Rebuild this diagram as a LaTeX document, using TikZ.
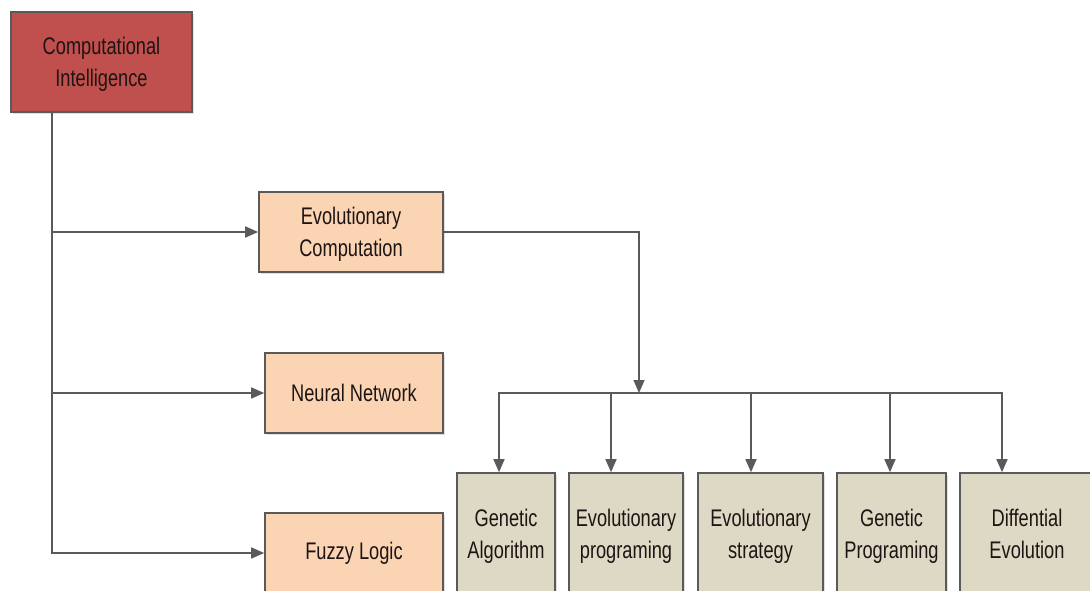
\documentclass[tikz,border=0pt]{standalone}
\usepackage{fontspec}
\setmainfont[FakeStretch=0.76]{Liberation Sans}
\usetikzlibrary{arrows.meta,shadows,calc}
\definecolor{redbox}{HTML}{C0504D}
\definecolor{peach}{HTML}{FBD4B4}
\definecolor{tan}{HTML}{DDD9C4}
\definecolor{edge}{HTML}{5A5A5A}
\definecolor{txt}{HTML}{1E1414}
\newcommand{\twolines}[2]{\raisebox{0pt}[\dimexpr\height+5pt\relax][\depth]{\begin{tabular}{@{}c@{}}#1\\#2\end{tabular}}}
\tikzset{
  box/.style={draw=edge, line width=1.6pt, text=txt,
    font=\fontsize{24}{32}\selectfont, inner sep=0pt,
    drop shadow={shadow xshift=2pt, shadow yshift=-2pt, opacity=0.25}},
  root/.style={box, fill=redbox},
  mid/.style={box, fill=peach},
  leaf/.style={box, fill=tan},
  conn/.style={draw=edge, line width=1.6pt},
  arr/.style={conn, -{Triangle[length=13pt,width=11pt]}}
}
\begin{document}
\begin{tikzpicture}[x=1pt,y=-1pt]
\useasboundingbox (0,0) rectangle (1090,591);
\clip (0,0) rectangle (1090,591);
\node[root, minimum width=181pt, minimum height=100pt] (ci) at (101.5,62) {\twolines{Computational}{Intelligence}};
\node[mid, minimum width=184pt, minimum height=80pt] (ec) at (351,232) {\twolines{Evolutionary}{Computation}};
\node[mid, minimum width=178pt, minimum height=80pt] (nn) at (354,393) {Neural Network};
\node[mid, minimum width=178pt, minimum height=80pt] (fl) at (354,553) {Fuzzy Logic};
\node[leaf, minimum width=98pt, minimum height=122pt] (ga) at (506,534) {\twolines{Genetic}{Algorithm}};
\node[leaf, minimum width=114pt, minimum height=122pt] (ep) at (626,534) {\twolines{Evolutionary}{programing}};
\node[leaf, minimum width=125pt, minimum height=122pt] (es) at (760.5,534) {\twolines{Evolutionary}{strategy}};
\node[leaf, minimum width=109pt, minimum height=122pt] (gp) at (891.5,534) {\twolines{Genetic}{Programing}};
\node[leaf, minimum width=134pt, minimum height=122pt] (de) at (1027,534) {\twolines{Diffential}{Evolution}};
\coordinate (bar) at (639,393);
% trunk
\draw[arr] ([xshift=42pt]ci.south west) |- (ec.west);
\draw[arr] ([xshift=42pt]ci.south west) |- (nn.west);
\draw[arr] ([xshift=42pt]ci.south west) |- (fl.west);
% EC to bar
\draw[arr] (ec.east) -| (bar);
% distribution
\draw[arr] (bar) -| ([xshift=-7pt]ga.north);
\draw[arr] (bar) -| ([xshift=-15pt]ep.north);
\draw[arr] (bar) -| ([xshift=-9.5pt]es.north);
\draw[arr] (bar) -| ([xshift=-1.5pt]gp.north);
\draw[arr] (bar) -| ([xshift=-25pt]de.north);
\end{tikzpicture}
\end{document}
